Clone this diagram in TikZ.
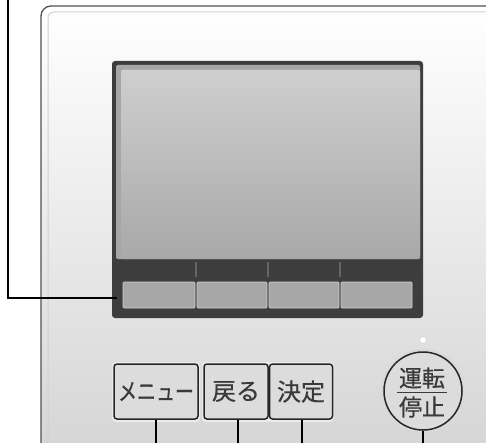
\documentclass[tikz,border=0pt]{standalone}
\usepackage{fontspec}
\newfontfamily\jp[FakeBold=0.6]{Noto Sans CJK JP}
\definecolor{panelline}{HTML}{505050}
\definecolor{bezel}{HTML}{3D3D3D}
\definecolor{txt}{HTML}{3A3A3A}
\definecolor{keyfill}{HTML}{A7A7A7}
\definecolor{btnfill}{HTML}{DCDCDC}
\tikzset{
  callout/.style={draw=black, line width=1.5pt},
  btn/.style={draw=black!85, line width=1.5pt, fill=btnfill, rounded corners=3pt, minimum height=55pt, inner sep=0pt, text=txt, font=\jp\fontsize{24}{24}\selectfont},
  softkey/.style={draw=black!18, line width=0.7pt, fill=keyfill, rounded corners=1pt},
  tick/.style={draw=black!60, line width=1.6pt},
}
\begin{document}
\begin{tikzpicture}[x=1pt,y=-1pt]
\useasboundingbox (0,0) rectangle (486,443);
\begin{scope}
\clip (0,0) rectangle (486,443);
% panel
\draw[panelline, line width=1.3pt, rounded corners=10pt, top color=white, bottom color=black!17]
  (41,470) -- (41,6) -- (520,6) -- (520,470);
\draw[black!18, line width=1pt, rounded corners=6pt] (48,470) -- (48,12) -- (520,12);
% bezel
\fill[bezel, rounded corners=3pt] (112,61) rectangle (423,318);
\fill[black!35, rounded corners=2pt] (116,65) rectangle (420,259);
\shade[top color=black!19, bottom color=black!34, rounded corners=1.5pt] (121,70) rectangle (420,259);
% ticks
\draw[tick] (196,262) -- (196,277);
\draw[tick] (268,262) -- (268,277);
\draw[tick] (340,262) -- (340,277);
% soft keys
\path[softkey] (123,282) rectangle (195,308);
\path[softkey] (197,282) rectangle (267,308);
\path[softkey] (269,282) rectangle (339,308);
\path[softkey] (341,282) rectangle (412,308);
% buttons
\fill[black!8, rounded corners=4pt] (112,362) rectangle (200,422);
\fill[black!8, rounded corners=4pt] (202,362) rectangle (334,422);
\node[btn, minimum width=84pt] (menu) at (156,391.5) {\scalebox{0.79}[1]{メニュー}};
\node[btn, minimum width=64pt] (back) at (236,391.5) {戻る};
\node[btn, minimum width=63pt] (ok) at (301,391.5) {決定};
% run/stop
\fill[black!15] (423,391) circle (42pt);
\node[circle, draw=black!85, line width=1.5pt, fill=btnfill, minimum size=78pt, inner sep=0pt] (run) at (423,391) {};
\node[text=txt, font=\jp\fontsize{23}{23}\selectfont, inner sep=0pt] (runtxt) at (422,378) {運転};
\node[text=txt, font=\jp\fontsize{23}{23}\selectfont, inner sep=0pt] (stoptxt) at (422,407) {停止};
\draw[txt, line width=1.3pt] (397,392.5) -- (447,392.5);
\node[circle, draw=black!22, fill=white, minimum size=7pt, inner sep=0pt] (led) at (423,340) {};
% callouts
\coordinate (c0) at (8,-2);
\coordinate (c1) at (8,298);
\coordinate (c2) at (117,298);
\draw[callout] (c0) -- (c1) -- (c2);
\coordinate (b1) at (156,445);
\coordinate (b2) at (238,445);
\coordinate (b3) at (302,445);
\coordinate (b4) at (423,445);
\draw[callout] (menu.south) -- (b1);
\draw[callout] (back.south -| b2) -- (b2);
\draw[callout] (ok.south -| b3) -- (b3);
\draw[callout] (run.south) -- (b4);
\end{scope}
\end{tikzpicture}
\end{document}
